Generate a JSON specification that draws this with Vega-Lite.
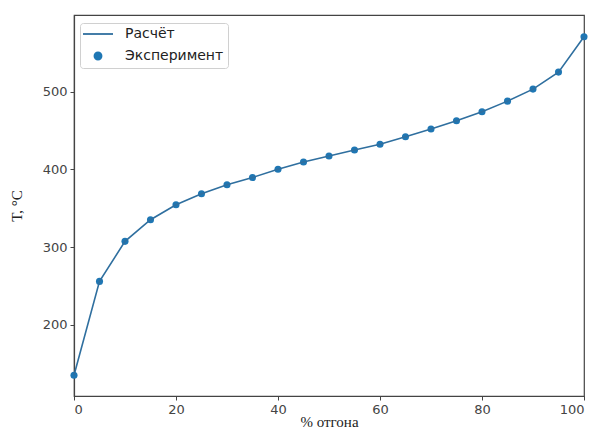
{
  "$schema": "https://vega.github.io/schema/vega-lite/v6.json",
  "width": 510,
  "height": 381,
  "autosize": {"type": "none"},
  "padding": {"left": 74, "top": 15, "right": 14, "bottom": 33},
  "background": "white",
  "config": {
    "view": {"stroke": "#444", "strokeWidth": 1.2},
    "axis": {
      "grid": false,
      "domainColor": "#444",
      "domainWidth": 1.2,
      "tickColor": "#444",
      "tickSize": 4,
      "labelColor": "#444",
      "labelFont": "DejaVu Sans",
      "labelFontSize": 13,
      "labelPadding": 3,
      "titleFont": "Liberation Serif",
      "titleFontWeight": "normal",
      "titleFontSize": 15,
      "titleColor": "#222"
    }
  },
  "datasets": {
    "calc": [
      {"p": 0, "T": 134.7, "series": "Расчёт"},
      {"p": 5, "T": 255.7, "series": "Расчёт"},
      {"p": 10, "T": 307.3, "series": "Расчёт"},
      {"p": 15, "T": 335.2, "series": "Расчёт"},
      {"p": 20, "T": 354.5, "series": "Расчёт"},
      {"p": 25, "T": 368.7, "series": "Расчёт"},
      {"p": 30, "T": 380.2, "series": "Расчёт"},
      {"p": 35, "T": 389.6, "series": "Расчёт"},
      {"p": 40, "T": 400.2, "series": "Расчёт"},
      {"p": 45, "T": 409.6, "series": "Расчёт"},
      {"p": 50, "T": 417.3, "series": "Расчёт"},
      {"p": 55, "T": 425.0, "series": "Расчёт"},
      {"p": 60, "T": 432.4, "series": "Расчёт"},
      {"p": 65, "T": 442.1, "series": "Расчёт"},
      {"p": 70, "T": 452.0, "series": "Расчёт"},
      {"p": 75, "T": 462.7, "series": "Расчёт"},
      {"p": 80, "T": 474.3, "series": "Расчёт"},
      {"p": 85, "T": 488.0, "series": "Расчёт"},
      {"p": 90, "T": 503.5, "series": "Расчёт"},
      {"p": 95, "T": 525.4, "series": "Расчёт"},
      {"p": 100, "T": 571.0, "series": "Расчёт"}
    ],
    "exp": [
      {"p": 0, "T": 134.7, "series": "Эксперимент"},
      {"p": 5, "T": 255.7, "series": "Эксперимент"},
      {"p": 10, "T": 307.3, "series": "Эксперимент"},
      {"p": 15, "T": 335.2, "series": "Эксперимент"},
      {"p": 20, "T": 354.5, "series": "Эксперимент"},
      {"p": 25, "T": 368.7, "series": "Эксперимент"},
      {"p": 30, "T": 380.2, "series": "Эксперимент"},
      {"p": 35, "T": 389.6, "series": "Эксперимент"},
      {"p": 40, "T": 400.2, "series": "Эксперимент"},
      {"p": 45, "T": 409.6, "series": "Эксперимент"},
      {"p": 50, "T": 417.3, "series": "Эксперимент"},
      {"p": 55, "T": 425.0, "series": "Эксперимент"},
      {"p": 60, "T": 432.4, "series": "Эксперимент"},
      {"p": 65, "T": 442.1, "series": "Эксперимент"},
      {"p": 70, "T": 452.0, "series": "Эксперимент"},
      {"p": 75, "T": 462.7, "series": "Эксперимент"},
      {"p": 80, "T": 474.3, "series": "Эксперимент"},
      {"p": 85, "T": 488.0, "series": "Эксперимент"},
      {"p": 90, "T": 503.5, "series": "Эксперимент"},
      {"p": 95, "T": 525.4, "series": "Эксперимент"},
      {"p": 100, "T": 571.0, "series": "Эксперимент"}
    ]
  },
  "encoding": {
    "x": {
      "field": "p",
      "type": "quantitative",
      "scale": {"domain": [0, 100], "nice": false, "zero": false},
      "axis": {"values": [0, 20, 40, 60, 80, 100], "title": "% отгона", "titlePadding": -2}
    },
    "y": {
      "field": "T",
      "type": "quantitative",
      "scale": {"domain": [108, 599], "nice": false, "zero": false},
      "axis": {"values": [200, 300, 400, 500], "title": "T, °C", "titlePadding": 18}
    },
    "color": {
      "field": "series",
      "type": "nominal",
      "scale": {"domain": ["Расчёт", "Эксперимент"], "range": ["#2f6f9f", "#1f77b4"]},
      "legend": {
        "title": null,
        "orient": "none",
        "legendX": 6,
        "legendY": 8,
        "padding": 4,
        "fillColor": "white",
        "strokeColor": "#d0d0d0",
        "cornerRadius": 3,
        "labelFont": "DejaVu Sans",
        "labelFontSize": 14,
        "labelColor": "#222",
        "labelOffset": 20,
        "symbolOffset": 7,
        "rowPadding": 7,
        "symbolSize": 900,
        "symbolStrokeWidth": 1.8,
        "encode": {
          "symbols": {
            "update": {
              "shape": {"signal": "datum.value === 'Расчёт' ? 'stroke' : 'circle'"},
              "size": {"signal": "datum.value === 'Расчёт' ? 900 : 50"},
              "stroke": {"signal": "datum.value === 'Расчёт' ? '#2f6f9f' : '#1f77b4'"},
              "fill": {"value": "#1f77b4"},
              "opacity": {"value": 1}
            }
          }
        }
      }
    }
  },
  "layer": [
    {
      "data": {"name": "exp"},
      "mark": {"type": "point", "filled": true, "size": 50, "opacity": 1}
    },
    {
      "data": {"name": "calc"},
      "mark": {"type": "line", "strokeWidth": 1.6}
    }
  ]
}
